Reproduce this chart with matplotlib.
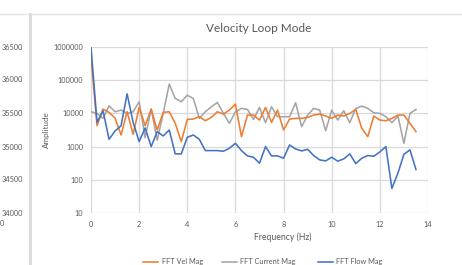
import matplotlib
matplotlib.use("Agg")
import matplotlib.pyplot as plt
from matplotlib.lines import Line2D

plt.rcParams['font.family'] = ['Lato', 'DejaVu Sans']

# ---- data (log10 of amplitude) ----
freq = [0.0, 0.25, 0.5, 0.75, 1.0, 1.25, 1.5, 1.75, 2.0, 2.25, 2.5, 2.75, 3.0, 3.25,
        3.5, 3.75, 4.0, 4.25, 4.5, 4.75, 5.0, 5.25, 5.5, 5.75, 6.0, 6.25, 6.5, 6.75,
        7.0, 7.25, 7.5, 7.75, 8.0, 8.25, 8.5, 8.75, 9.0, 9.25, 9.5, 9.75, 10.0, 10.25,
        10.5, 10.75, 11.0, 11.25, 11.5, 11.75, 12.0, 12.25, 12.5, 12.75, 13.0, 13.25, 13.5]

vel_log = [5.69, 3.63, 4.13, 4.03, 3.86, 3.35, 4.05, 3.37, 4.18, 3.63, 4.13, 3.50, 4.03, 4.05,
           3.70, 3.15, 3.82, 3.83, 3.90, 3.78, 3.88, 4.05, 3.98, 4.10, 4.28, 3.30, 3.95, 3.95,
           3.80, 4.18, 3.73, 4.10, 3.50, 3.83, 3.85, 3.85, 3.88, 3.95, 3.98, 3.92, 3.85, 3.95,
           3.92, 4.00, 4.12, 3.55, 3.30, 3.92, 3.80, 3.78, 3.85, 3.95, 3.95, 3.70, 3.45]

cur_log = [4.05, 4.00, 3.85, 4.23, 4.05, 4.10, 4.00, 4.05, 4.35, 3.27, 4.13, 3.19, 4.00, 4.88,
           4.45, 4.35, 4.55, 4.45, 3.85, 4.05, 4.20, 4.33, 4.00, 3.70, 4.05, 4.15, 4.12, 3.82,
           4.18, 3.72, 4.20, 3.90, 3.90, 3.90, 4.32, 3.60, 3.95, 4.15, 4.10, 3.48, 4.10, 3.80,
           4.08, 3.72, 4.15, 4.22, 4.15, 4.02, 4.00, 3.90, 3.72, 3.92, 3.10, 4.00, 4.12]

flow_log = [6.00, 3.73, 4.08, 3.22, 3.47, 3.63, 4.59, 3.73, 3.15, 3.56, 3.00, 3.45, 3.32, 3.50,
            2.78, 2.78, 3.28, 3.35, 3.22, 2.88, 2.88, 2.88, 2.86, 2.95, 3.10, 2.88, 2.72, 2.68,
            2.50, 3.00, 2.72, 2.72, 2.65, 3.05, 2.93, 2.87, 2.92, 2.73, 2.60, 2.57, 2.68, 2.56,
            2.63, 2.78, 2.49, 2.65, 2.73, 2.71, 2.84, 3.00, 1.74, 2.20, 2.77, 2.90, 2.31]

vel = [10 ** v for v in vel_log]
cur = [10 ** v for v in cur_log]
flow = [10 ** v for v in flow_log]

y_ticks = [10, 100, 1000, 10000, 100000, 1000000]
x_ticks = [0, 2, 4, 6, 8, 10, 12, 14]
left_ticks = ["36500", "36000", "35500", "35000", "34500", "34000"]

C_VEL = "#ED7D31"
C_CUR = "#A5A5A5"
C_FLOW = "#4472C4"
GRID = "#D9D9D9"
TXT = "#595959"

W, H = 462, 265
fig = plt.figure(figsize=(W / 100, H / 100), dpi=100)

def fx(px):
    return px / W

def fy(py):
    return 1 - py / H

ax = fig.add_axes([fx(91), fy(213), fx(428) - fx(91), fy(47) - fy(213)])
ax.plot(freq, vel, color=C_VEL, lw=1.15, zorder=3)
ax.plot(freq, cur, color=C_CUR, lw=1.15, zorder=2)
ax.plot(freq, flow, color=C_FLOW, lw=1.15, zorder=4)
ax.set_yscale('log')
ax.set_ylim(10, 1000000)
ax.set_xlim(0, 14)
ax.set_yticks(y_ticks)
ax.set_yticklabels([str(v) for v in y_ticks])
ax.minorticks_off()
ax.set_xticks(x_ticks)
ax.set_xticklabels([str(v) for v in x_ticks])
ax.grid(True, color=GRID, lw=0.9)
ax.set_axisbelow(True)
for s in ax.spines.values():
    s.set_visible(False)
ax.tick_params(axis='y', length=0, labelsize=5.3, colors=TXT, pad=5.5)
ax.tick_params(axis='x', length=0, labelsize=5.3, colors=TXT, pad=6.0)

fig.text(fx(46.5), fy(130), "Amplitude", rotation=90, ha='center', va='center',
         fontsize=5.8, color=TXT)
fig.text(fx(283), fy(237.5), "Frequency (Hz)", ha='center', va='center',
         fontsize=6.2, color=TXT)
fig.text(fx(259), fy(29), "Velocity Loop Mode", ha='center', va='center',
         fontsize=8.5, color=TXT)

# frame lines of the spreadsheet view
fig.add_artist(Line2D([0, 1], [fy(14), fy(14)], color="#E3E3E3", lw=1.0))
fig.add_artist(Line2D([fx(29.5), fx(29.5)], [0, fy(14)], color="#D9D9D9", lw=2.0))

# neighbouring chart's cut-off axis labels
for lbl, py in zip(left_ticks, [47, 80, 113, 147, 180, 213]):
    fig.text(fx(23), fy(py), lbl, ha='right', va='center', fontsize=5.3, color=TXT)
fig.text(fx(0), fy(223.5), "0", ha='left', va='center', fontsize=5.3, color=TXT)

# legend
leg = [("FFT Vel Mag", C_VEL, 143, 161.5), ("FFT Current Mag", C_CUR, 222, 240.5),
       ("FFT Flow Mag", C_FLOW, 318, 335.5)]
for name, col, lx, tx in leg:
    fig.add_artist(Line2D([fx(lx), fx(lx + 15)], [fy(261.5), fy(261.5)], color=col, lw=1.15))
    fig.text(fx(tx), fy(261.5), name, ha='left', va='center', fontsize=5.3, color=TXT)

fig.savefig("out.png", dpi=100)
